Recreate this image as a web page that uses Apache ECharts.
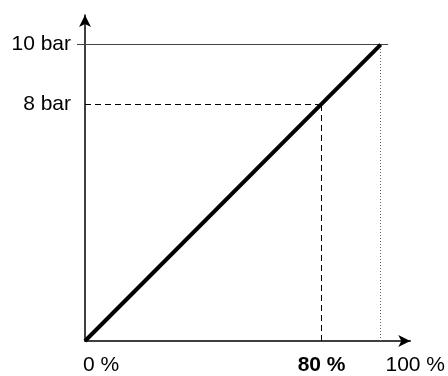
<!DOCTYPE html>
<html>
<head>
    <meta charset="UTF-8">
    <title>Pressure vs percent</title>
    <script src="https://cdn.jsdelivr.net/npm/echarts@6/dist/echarts.min.js"></script>
    <style>
        html, body { margin: 0; padding: 0; background: #fff; }
    </style>
</head>
<body>
    <div id="main" style="width: 448px; height: 376px;"></div>

    <script>
        // schematic: pressure rises linearly with the percentage
        var lineX = [0, 100];
        var lineY = [0, 10];
        var markX = 80;         // dashed guide
        var markY = 8;
        var topX = 100;         // dotted guide / top level
        var topY = 10;
        var topLineEnd = 102.5; // top level line runs a bit past 100 %
        var xTicks = [0, 80, 100];
        var yTicks = [8, 10];
        var xTickLabels = ['0 %', '80 %', '100 %'];
        var yTickLabels = ['8 bar', '10 bar'];

        var chart = echarts.init(document.getElementById('main'));
        var font = 'Liberation Sans, Arial, sans-serif';

        var lineData = lineX.map(function (x, i) { return [x, lineY[i]]; });

        var option = {
            animation: false,
            grid: { left: 85, right: 36, top: 15, bottom: 34 },
            xAxis: {
                type: 'value',
                min: 0,
                max: 110,
                splitLine: { show: false },
                axisTick: { show: false },
                axisLine: {
                    show: true,
                    lineStyle: { color: '#000', width: 1.5 },
                    symbol: ['none', 'arrow'],
                    symbolSize: [9, 12]
                },
                axisLabel: {
                    customValues: xTicks,
                    margin: 14,
                    formatter: function (v) {
                        var i = xTicks.indexOf(v);
                        if (i === 0) return '{a|' + xTickLabels[i] + '}';
                        if (i === 1) return '{b|' + xTickLabels[i] + '}';
                        if (i === 2) return '{c|' + xTickLabels[i] + '}';
                        return '';
                    },
                    rich: {
                        a: { fontFamily: font, fontSize: 21, color: '#000', padding: [0, 0, 0, 32] },
                        b: { fontFamily: font, fontSize: 21, color: '#000', fontWeight: 'bold', padding: [0, 0, 0, 0] },
                        c: { fontFamily: font, fontSize: 21, color: '#000', padding: [0, 0, 0, 69] }
                    }
                }
            },
            yAxis: {
                type: 'value',
                min: 0,
                max: 11,
                splitLine: { show: false },
                axisLine: {
                    show: true,
                    lineStyle: { color: '#000', width: 1.5 },
                    symbol: ['none', 'arrow'],
                    symbolSize: [9, 12]
                },
                axisTick: {
                    show: true,
                    customValues: [topY],
                    length: 8,
                    lineStyle: { color: '#444', width: 1 }
                },
                axisLabel: {
                    customValues: yTicks,
                    margin: 14,
                    fontFamily: font,
                    fontSize: 21,
                    color: '#000',
                    formatter: function (v) {
                        var i = yTicks.indexOf(v);
                        return i < 0 ? '' : yTickLabels[i];
                    }
                }
            },
            series: [
                {
                    type: 'line',
                    data: lineData,
                    symbol: 'none',
                    silent: true,
                    z: 5,
                    lineStyle: { color: '#000', width: 4 },
                    markLine: {
                        silent: true,
                        symbol: 'none',
                        label: { show: false },
                        animation: false,
                        data: [
                            [
                                { coord: [0, markY], lineStyle: { color: '#000', width: 1, type: [6, 4] } },
                                { coord: [markX, markY] }
                            ],
                            [
                                { coord: [markX, 0], lineStyle: { color: '#000', width: 1, type: [6, 4] } },
                                { coord: [markX, markY] }
                            ],
                            [
                                { coord: [0, topY], lineStyle: { color: '#444', width: 1, type: 'solid' } },
                                { coord: [topLineEnd, topY] }
                            ],
                            [
                                { coord: [topX, 0], lineStyle: { color: '#666', width: 1, type: [1, 2] } },
                                { coord: [topX, topY] }
                            ]
                        ]
                    }
                }
            ]
        };

        chart.setOption(option);
    </script>
</body>
</html>
